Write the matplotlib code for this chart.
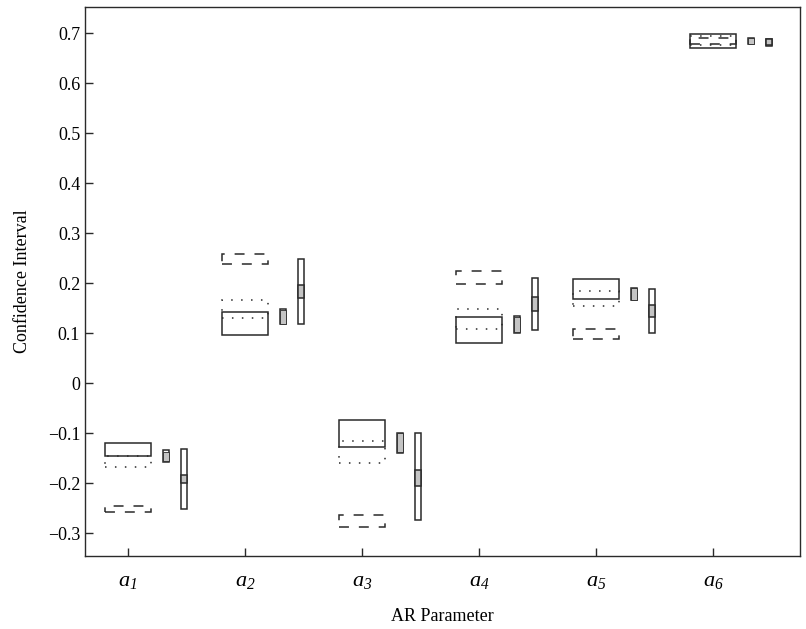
import matplotlib
matplotlib.use('Agg')
import matplotlib.pyplot as plt
from matplotlib.patches import Rectangle

plt.rcParams.update({
    'font.family': 'Liberation Serif',
    'font.size': 13,
    'mathtext.fontset': 'custom',
    'mathtext.rm': 'Liberation Serif:italic',
    'mathtext.it': 'Liberation Serif:italic',
    'axes.linewidth': 1.0,
})

# AR parameters
params = ['a1', 'a2', 'a3', 'a4', 'a5', 'a6']
xpos = [1, 2, 3, 4, 5, 6]

# wide intervals (solid / dotted / dashed)
solid_lo = [-0.146, 0.096, -0.127, 0.081, 0.168, 0.671]
solid_hi = [-0.119, 0.143, -0.073, 0.133, 0.208, 0.698]
dotted_lo = [-0.167, 0.131, -0.159, 0.108, 0.155, 0.676]
dotted_hi = [-0.145, 0.166, -0.116, 0.149, 0.185, 0.694]
dashed_lo = [-0.257, 0.238, -0.287, 0.198, 0.089, 0.678]
dashed_hi = [-0.245, 0.259, -0.263, 0.225, 0.109, 0.691]

# narrow gray interval
small_lo = [-0.158, 0.118, -0.139, 0.101, 0.166, 0.678]
small_hi = [-0.133, 0.148, -0.099, 0.134, 0.191, 0.691]
small_in_lo = [-0.155, 0.119, -0.138, 0.102, 0.167, 0.679]
small_in_hi = [-0.137, 0.147, -0.100, 0.133, 0.190, 0.690]

# tall interval with gray core
tall_lo = [-0.252, 0.118, -0.273, 0.106, 0.101, 0.675]
tall_hi = [-0.132, 0.249, -0.099, 0.211, 0.188, 0.688]
tall_in_lo = [-0.199, 0.171, -0.205, 0.144, 0.133, 0.676]
tall_in_hi = [-0.183, 0.196, -0.173, 0.173, 0.156, 0.687]

EDGE = '#2a2a2a'
GRAY = '#c4c4c4'

fig = plt.figure(figsize=(8.06, 6.29), dpi=100)
ax = fig.add_axes([85/806, 73.5/629, 715/806, 548.5/629])

W_WIDE = 0.40
W_SMALL = 0.05
W_TALL = 0.055
OFF_SMALL = 0.325
OFF_TALL = 0.48


def box(xc, lo, hi, w, ls='-', fc='none', lw=1.1, z=3):
    ax.add_patch(Rectangle((xc - w/2, lo), w, hi - lo, facecolor=fc,
                           edgecolor=EDGE, linestyle=ls, lw=lw, zorder=z))


for i, x in enumerate(xpos):
    box(x, dashed_lo[i], dashed_hi[i], W_WIDE, ls=(0, (6.5, 6.5)))
    box(x, dotted_lo[i], dotted_hi[i], W_WIDE, ls=(0, (1, 5.5)))
    box(x, solid_lo[i], solid_hi[i], W_WIDE)
    # narrow gray box
    box(x + OFF_SMALL, small_lo[i], small_hi[i], W_SMALL, fc='white')
    box(x + OFF_SMALL, small_in_lo[i], small_in_hi[i], W_SMALL, fc=GRAY, lw=0.6, z=4)
    # tall box
    box(x + OFF_TALL, tall_lo[i], tall_hi[i], W_TALL, fc='white')
    box(x + OFF_TALL, tall_in_lo[i], tall_in_hi[i], W_TALL, fc=GRAY, z=4)

ax.set_xlim(0.632, 6.744)
ax.set_ylim(-0.345, 0.752)
ax.set_xticks(xpos)
ax.set_xticklabels([r'$a_{%s}$' % p[1] for p in params], fontsize=16)
ax.set_yticks([-0.3, -0.2, -0.1, 0, 0.1, 0.2, 0.3, 0.4, 0.5, 0.6, 0.7])
ax.set_yticklabels(['\u22120.3', '\u22120.2', '\u22120.1', '0', '0.1', '0.2',
                    '0.3', '0.4', '0.5', '0.6', '0.7'])
ax.tick_params(direction='in', length=6, width=1.0, top=False, right=False,
               colors=EDGE, labelcolor='black')
ax.tick_params(axis='x', pad=12)
for s in ax.spines.values():
    s.set_color(EDGE)

ax.set_xlabel('AR Parameter', fontsize=13, labelpad=12)
ax.set_ylabel('Confidence Interval', fontsize=13, labelpad=12)

fig.savefig('out.png', dpi=100, facecolor='white')
